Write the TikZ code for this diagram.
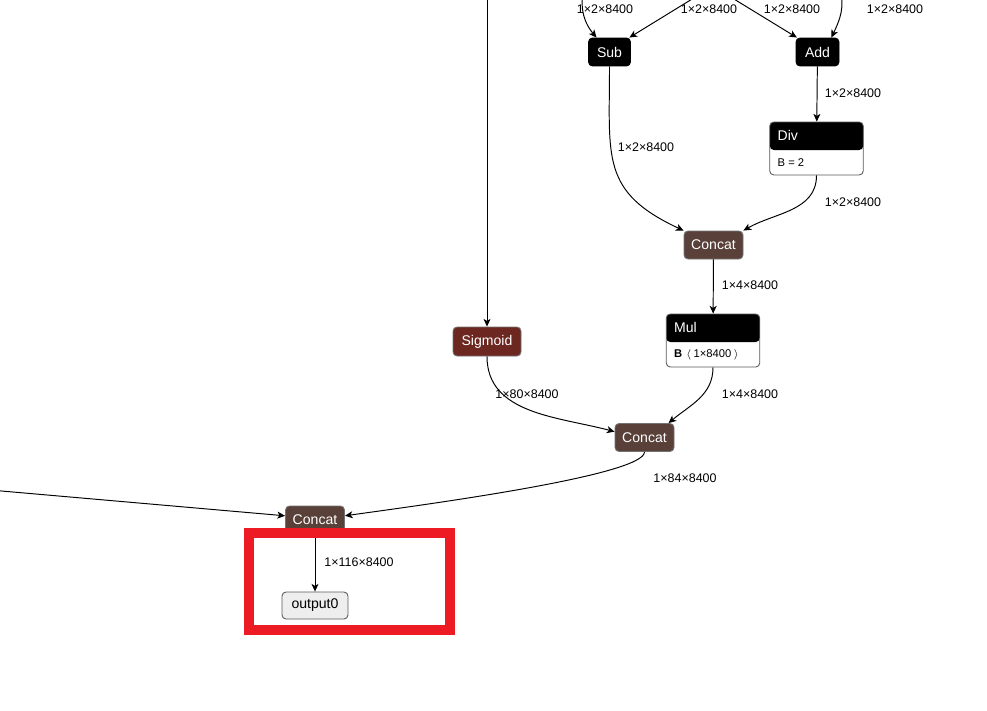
\documentclass[tikz,border=0pt]{standalone}
\usepackage{fontspec}
\setmainfont{Liberation Sans}
\usetikzlibrary{arrows.meta,positioning,calc}
\definecolor{catbrown}{RGB}{89,65,58}
\definecolor{sigred}{RGB}{107,39,32}
\definecolor{outgray}{RGB}{238,238,238}
\definecolor{hlred}{RGB}{237,28,36}
\tikzset{
  opnode/.style={draw=black!55,line width=0.5pt,rounded corners=2.3pt,text=white,
    font=\fontsize{8}{9}\selectfont,minimum height=0.56cm,inner sep=0pt},
  blknode/.style={opnode,fill=black,draw=black},
  catnode/.style={opnode,fill=catbrown,minimum width=1.18cm},
  signode/.style={opnode,fill=sigred,minimum width=1.36cm,minimum height=0.58cm},
  outnode/.style={opnode,fill=outgray,draw=black!65,text=black,minimum width=1.32cm,minimum height=0.54cm},
  boxnode/.style={draw=black!65,line width=0.5pt,fill=white,rounded corners=2.3pt,
    minimum width=1.87cm,minimum height=1.06cm,inner sep=0pt,
    path picture={\fill[black] (path picture bounding box.north west) rectangle
      ([yshift=-0.56cm]path picture bounding box.north east);}},
  hdtext/.style={text=white,font=\fontsize{8}{9}\selectfont,inner sep=0pt,anchor=west},
  attrtext/.style={text=black,font=\fontsize{6.4}{7}\selectfont,inner sep=0pt,anchor=west},
  lbl/.style={font=\fontsize{7.1}{8}\selectfont,inner sep=0pt},
  edge/.style={line width=0.55pt,-{Stealth[length=4.4pt,width=4pt,inset=1.2pt]}}
}

\begin{document}
\begin{tikzpicture}[x=0.02cm,y=-0.02cm]
  \useasboundingbox (0,0) rectangle (987,710);
  \clip (0,0) rectangle (987,710);

  % operator nodes
  \node[blknode,minimum width=0.84cm] (sub) at (609.5,52) {Sub};
  \node[blknode,minimum width=0.86cm] (add) at (817.5,52) {Add};
  \node[boxnode] (div) at (816.5,148.5) {};
  \node[hdtext] (divname) at ([xshift=0.16cm,yshift=-0.28cm]div.north west) {Div};
  \node[attrtext] (divattr) at ([xshift=0.16cm,yshift=0.26cm]div.south west) {B = 2};
  \node[catnode] (cat1) at (713.5,245) {Concat};
  \node[boxnode] (mul) at (713,340.5) {};
  \node[hdtext] (mulname) at ([xshift=0.16cm,yshift=-0.28cm]mul.north west) {Mul};
  \node[attrtext] (mulattr) at ([xshift=0.16cm,yshift=0.25cm]mul.south west) {\textbf{B}\,\,$\langle\,$1×8400$\,\rangle$};
  \node[signode] (sig) at (487,341.5) {Sigmoid};
  \node[catnode] (cat2) at (644.5,437.5) {Concat};
  \node[catnode] (cat3) at (315,520) {Concat};
  \node[outnode] (out0) at (315,605.5) {output0};

  % inputs from outside the view
  \coordinate (inA) at (588,-22);
  \coordinate (inB) at (697,-4);
  \coordinate (inC) at (729,-4);
  \coordinate (inD) at (839,-12);
  \coordinate (inSig) at (487,-10);
  \coordinate (inL) at (-10,490);

  % connectors
  \draw[edge] (inA) to[out=-115,in=130] (sub.132);
  \draw[edge] (inB) -- (sub.36);
  \draw[edge] (inC) -- (add.145);
  \draw[edge] (inD) to[out=-70,in=65] (add.46);
  \draw[edge] (inSig) -- (sig);
  \draw[edge] (add) -- (div);
  \draw[edge] (sub.south) to[out=-90,in=155,looseness=1.3] (cat1.north west);
  \draw[edge] (div.south) to[out=-90,in=30] (cat1.north east);
  \draw[edge] (cat1) -- (mul);
  \draw[edge] (mul.south) to[out=-90,in=40] (cat2.31);
  \draw[edge] (sig.south) to[out=-90,in=165] (cat2.169);
  \draw[edge] (cat2.south) to[out=-90,in=8,out looseness=0.2,in looseness=0.6] (cat3.8);
  \draw[edge] (inL) -- (cat3.172);
  \draw[edge] (cat3) -- (out0);

  % shape labels
  \node[lbl] (lA) at (605,9) {1×2×8400};
  \node[lbl] (lB) at (709,9) {1×2×8400};
  \node[lbl] (lC) at (792,9) {1×2×8400};
  \node[lbl] (lD) at (895,9) {1×2×8400};
  \node[lbl] (lsub) at (646,147) {1×2×8400};
  \node[lbl] (ladd) at (853,93) {1×2×8400};
  \node[lbl] (ldiv) at (853,202) {1×2×8400};
  \node[lbl] (lcat1) at (750,285) {1×4×8400};
  \node[lbl] (lmul) at (750,394) {1×4×8400};
  \node[lbl] (lsig) at (527,394) {1×80×8400};
  \node[lbl] (lcat2) at (685,478) {1×84×8400};
  \node[lbl] (lcat3) at (359,562) {1×116×8400};

  % highlight frame
  \draw[hlred,line width=0.2cm] (249,533) rectangle (450,630);
\end{tikzpicture}
\end{document}
